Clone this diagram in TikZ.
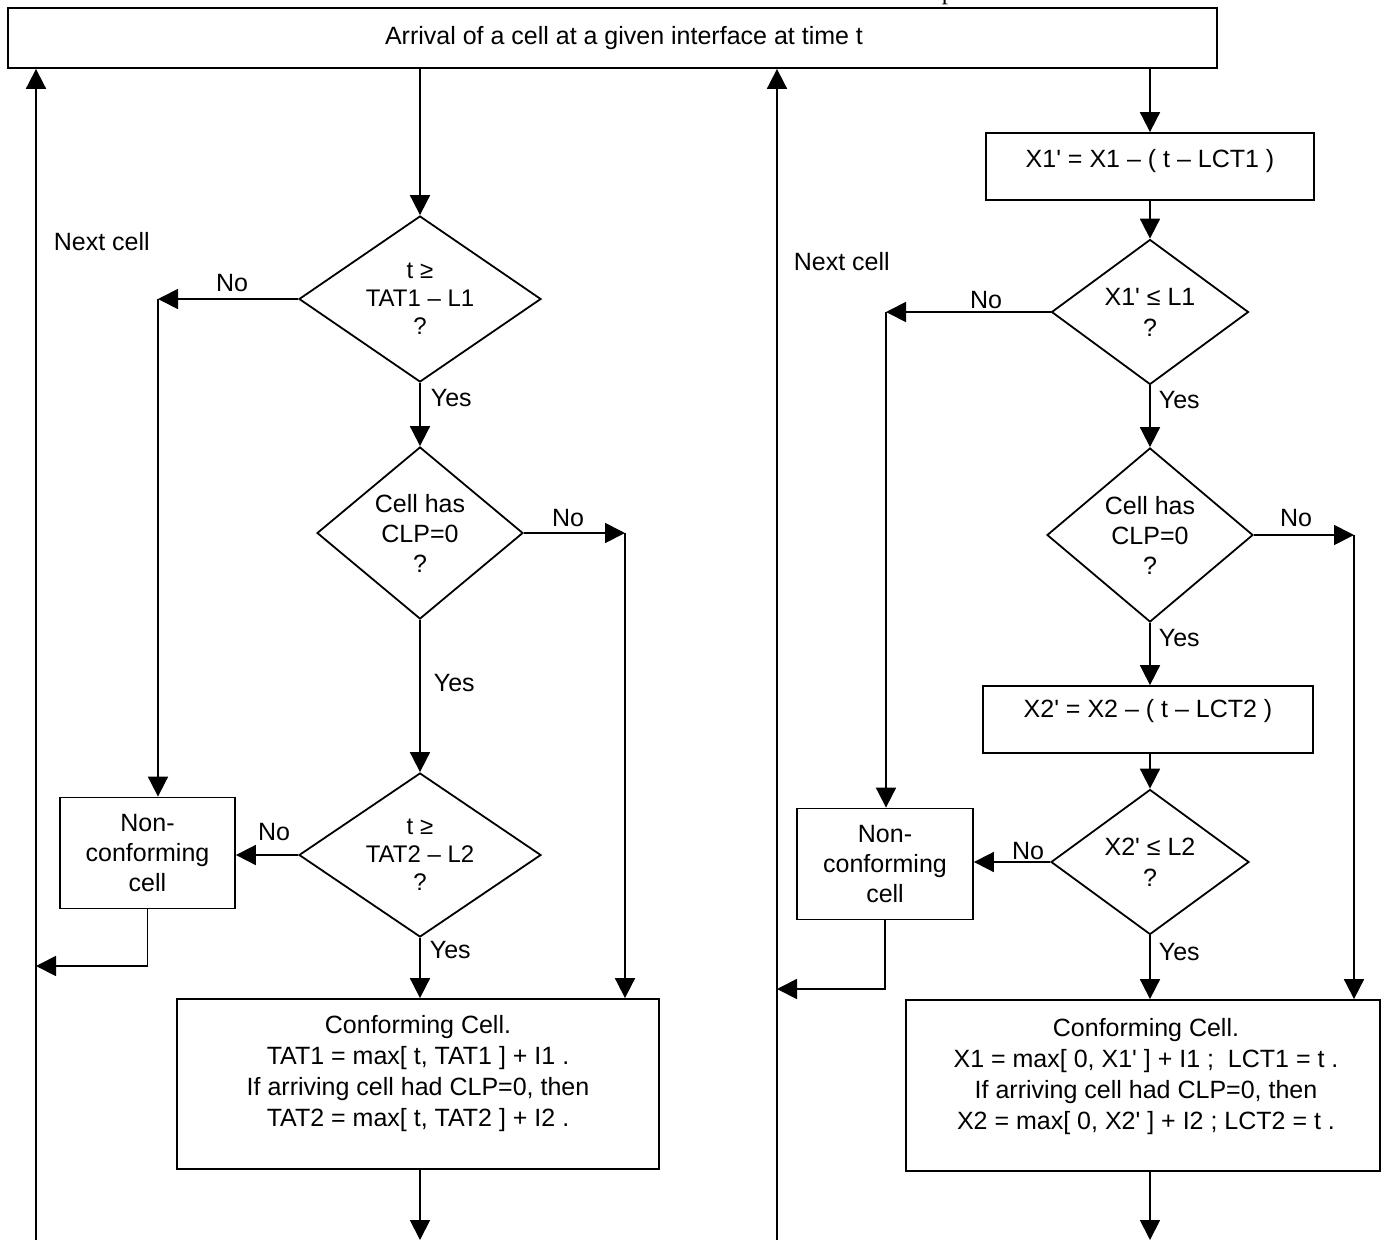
\documentclass[tikz,border=0pt]{standalone}
\usepackage{fontspec}
\newfontfamily\arialf{Liberation Sans}
\newfontfamily\serifp{Liberation Serif}
\usetikzlibrary{shapes.geometric,arrows.meta}
\begin{document}
\begin{tikzpicture}[x=1pt,y=-1pt,
  line width=1.8pt,
  every node/.style={font=\arialf\fontsize{25}{30}\selectfont, inner sep=0pt},
  box/.style={draw, rectangle, line width=1.8pt},
  dec/.style={draw, diamond, line width=1.8pt, align=center},
  txt/.style={align=center},
  arr/.style={-{Triangle[length=20pt,width=20pt]}},
  lblw/.style={anchor=west},
]
\useasboundingbox (0,0) rectangle (1385,1240);

% top
\node[box, minimum width=1209, minimum height=60] (top) at (612.5,38) {};
\node (toptxt) at (624,38) {Arrival of a cell at a given interface at time t};
\node[font=\serifp\fontsize{25}{30}\selectfont, anchor=base west] (pfrag) at (941,-1) {p};

% feedback lines
\coordinate (L0) at (36,1240);
\coordinate (M0) at (777,1240);
\draw[arr] (L0) -- (L0 |- top.south);
\draw[arr] (M0) -- (M0 |- top.south);
\node[lblw] (next1) at (53,242) {Next cell};
\node[lblw] (next2) at (793,262) {Next cell};

% ---------- left flow ----------
\node[dec, shape aspect=1.46, minimum width=242, minimum height=166, font=\arialf\fontsize{24}{28}\selectfont] (d1) at (420,299)
  {t ≥\\ TAT1 – L1\\ ?};
\node[dec, minimum width=206, minimum height=172] (d2) at (420,533) {Cell has\\CLP=0\\?};
\node[dec, shape aspect=1.47, minimum width=242, minimum height=164, font=\arialf\fontsize{24}{28}\selectfont] (d3) at (420,855)
  {t ≥\\ TAT2 – L2\\ ?};
\node[box, minimum width=175, minimum height=111, align=center] (nc1) at (147.5,853) {Non-\\conforming\\cell};
\node[box, minimum width=482, minimum height=170] (conf1) at (418,1084) {};
\node[txt, font=\arialf\fontsize{25}{31}\selectfont] (conf1txt) at (418,1073.5)
  {Conforming Cell.\\ TAT1 = max[ t, TAT1 ] + I1 .\\ If arriving cell had CLP=0, then\\ TAT2 = max[ t, TAT2 ] + I2 .};

\draw[arr] (top.south -| d1) -- (d1.north);
\coordinate (c1) at (158,299);
\draw[arr] (d1.west) -- (c1);
\draw[arr] (c1) -- (c1 |- nc1.north);
\node (no1) at (232,283) {No};
\draw[arr] (d1.south) -- (d2.north);
\node[lblw] (yes1) at (430,398) {Yes};
\coordinate (c2) at (625,533);
\draw[arr] (d2.east) -- (c2);
\draw[arr] (c2) -- (c2 |- conf1.north);
\node (no2) at (568,518) {No};
\draw[arr] (d2.south) -- (d3.north);
\node[lblw] (yes2) at (433,683) {Yes};
\draw[arr] (d3.west) -- (d3.west -| nc1.east);
\node (no3) at (274,832) {No};
\coordinate (e1) at (147.5,966);
\draw[arr] (nc1.south) -- (e1) -- (e1 -| L0);
\draw[arr] (d3.south) -- (d3.south |- conf1.north);
\node[lblw] (yes3) at (429,950) {Yes};
\draw[arr] (conf1.south -| d3.south) -- (L0 -| d3.south);

% ---------- right flow ----------
\node[box, minimum width=328, minimum height=67] (x1) at (1150,166.5) {};
\node (x1txt) at (1150,161) {X1' = X1 – ( t – LCT1 )};
\node[dec, minimum width=197, minimum height=145, font=\arialf\fontsize{25}{31}\selectfont] (d4) at (1150,312) {X1' ≤ L1\\?};
\node[dec, minimum width=206, minimum height=174] (d5) at (1150,535) {Cell has\\CLP=0\\?};
\node[box, minimum width=330, minimum height=67] (x2) at (1148,719.5) {};
\node (x2txt) at (1148,711) {X2' = X2 – ( t – LCT2 )};
\node[dec, minimum width=198, minimum height=145, font=\arialf\fontsize{25}{31}\selectfont] (d6) at (1150,862) {X2' ≤ L2\\?};
\node[box, minimum width=176, minimum height=111, align=center] (nc2) at (885,864) {Non-\\conforming\\cell};
\node[box, minimum width=474, minimum height=171] (conf2) at (1143,1085.5) {};
\node[txt, font=\arialf\fontsize{25}{31}\selectfont] (conf2txt) at (1146,1076.5)
  {Conforming Cell.\\ X1 = max[ 0, X1' ] + I1 ;\ \ LCT1 = t .\\ If arriving cell had CLP=0, then\\ X2 = max[ 0, X2' ] + I2 ; LCT2 = t .};

\draw[arr] (top.south -| x1) -- (x1.north);
\draw[arr] (x1.south) -- (d4.north);
\coordinate (c4) at (886,312);
\draw[arr] (d4.west) -- (c4);
\draw[arr] (c4) -- (c4 |- nc2.north);
\node (no4) at (986,300) {No};
\draw[arr] (d4.south) -- (d5.north);
\node[lblw] (yes4) at (1158,400) {Yes};
\coordinate (c5) at (1354,535);
\draw[arr] (d5.east) -- (c5);
\draw[arr] (c5) -- (c5 |- conf2.north);
\node (no5) at (1296,518) {No};
\draw[arr] (d5.south) -- (d5.south |- x2.north);
\node[lblw] (yes5) at (1158,638) {Yes};
\draw[arr] (d6.north |- x2.south) -- (d6.north);
\draw[arr] (d6.west) -- (d6.west -| nc2.east);
\node (no6) at (1028,851) {No};
\coordinate (e2) at (885,989);
\draw[arr] (nc2.south) -- (e2) -- (e2 -| M0);
\draw[arr] (d6.south) -- (d6.south |- conf2.north);
\node[lblw] (yes6) at (1158,952) {Yes};
\draw[arr] (conf2.south -| d6.south) -- (M0 -| d6.south);
\end{tikzpicture}
\end{document}
